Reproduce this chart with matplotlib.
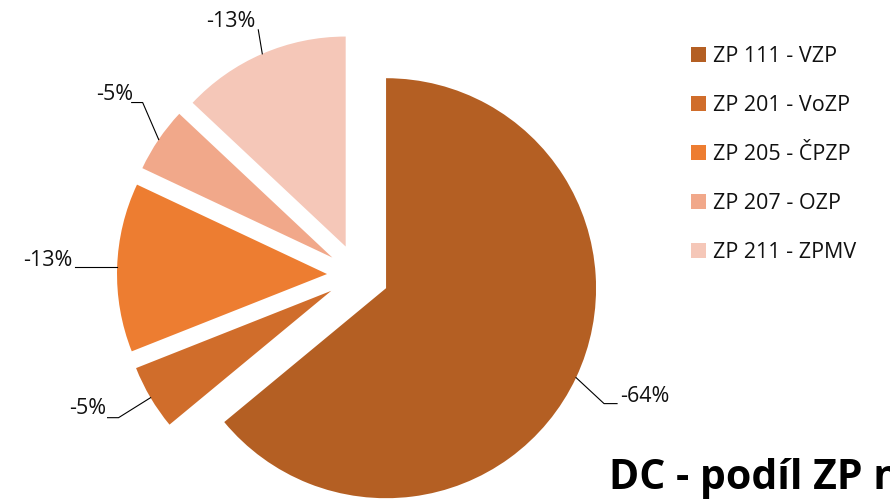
import numpy as np
import matplotlib
matplotlib.use("Agg")
import matplotlib.pyplot as plt

# data
names = ["ZP 111 - VZP", "ZP 201 - VoZP", "ZP 205 - ČPZP", "ZP 207 - OZP", "ZP 211 - ZPMV"]
shares = [64, 5, 13, 5, 13]
labels = ["-64%", "-5%", "-13%", "-5%", "-13%"]
colors = ["#B45F23", "#D06D2B", "#ED7D31", "#F1A88A", "#F5C7B8"]
title = "DC - podíl ZP na"

W, H = 890, 501
plt.rcParams['font.family'] = ['Open Sans', 'DejaVu Sans']

fig = plt.figure(figsize=(W / 100, H / 100), dpi=100)
ax = fig.add_axes([0, 0, 1, 1])

R = 210
center = (358, H - 275)
gap = 31
wedges, _ = ax.pie(shares, colors=colors, radius=R, center=center,
                   startangle=90, counterclock=False, explode=[gap] * len(shares),
                   frame=True, wedgeprops=dict(linewidth=0))
ax.set_xlim(0, W)
ax.set_ylim(0, H)
ax.set_aspect("equal")
ax.axis("off")

# label layout: (elbow dx, elbow dy, line end dx, text x, text y, ha) in pixels, y downwards
layout = [
    (28, 26, 13, 620, 397, "left"),
    (-32, 20, -11, 106, 409, "right"),
    (0, 0, -42, 73, 261, "right"),
    (-16, -37, -11, 133, 94, "right"),
    (-4, -24, 0, 231, 21, "center"),
]
for w, lab, (ex, ey, lx, tx, ty, ha) in zip(wedges, labels, layout):
    th = np.deg2rad((w.theta1 + w.theta2) / 2)
    cx, cy = w.center
    ax0 = cx + w.r * np.cos(th)
    ay0 = cy + w.r * np.sin(th)
    bx, by = ax0 + ex, ay0 - ey
    ax.plot([ax0, bx, bx + lx], [ay0, by, by], color="black", lw=0.8)
    ax.text(tx, H - ty, lab, ha=ha, va="center", fontsize=15.5, color="#111111")

leg = ax.legend(wedges, names, loc="upper left", bbox_to_anchor=(691 / W, 1 - 46 / H),
                frameon=False, fontsize=15.5, handlelength=0.7, handleheight=0.7,
                handletextpad=0.3, labelspacing=1.3, borderpad=0, borderaxespad=0)
for t in leg.get_texts():
    t.set_color("#111111")

fig.text(609 / W, 1 - 489 / H, title, fontsize=29.5, fontweight="bold", ha="left",
         va="baseline", color="black")

fig.savefig("out.png", dpi=100)
